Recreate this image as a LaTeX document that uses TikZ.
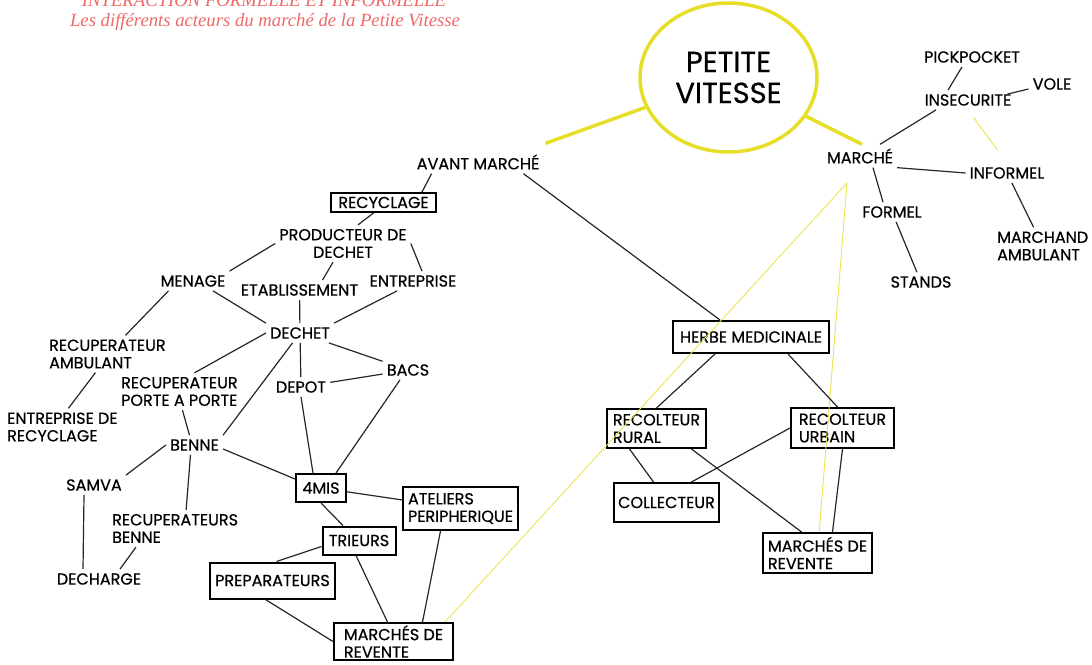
\documentclass[tikz,border=0pt]{standalone}
\usepackage{fontspec}
\setmainfont{Poppins}[FakeBold=0.6]
\newfontfamily\titlefont{Liberation Serif}
\usepackage{tikz}
\usetikzlibrary{shapes.geometric}
\definecolor{vitesse}{RGB}{230,222,40}
\definecolor{titlered}{RGB}{238,104,104}

\begin{document}
\begin{tikzpicture}[x=1pt, y=-1pt,
    lbl/.style={font=\fontsize{16}{17.5}\selectfont, inner sep=4pt, align=center},
    lleft/.style={lbl, align=left, anchor=west},
    boxed/.style={lbl, draw, line width=2pt, inner xsep=4pt, inner ysep=2pt, align=left},
    link/.style={line width=1.2pt, black!85},
    hilite/.style={line width=3.5pt, vitesse},
    faint/.style={line width=0.9pt, vitesse!80},
    headline/.style={font=\titlefont\fontsize{18.7}{20}\selectfont\itshape, text=titlered}]
    \useasboundingbox (0,0) rectangle (1092,664);
    \clip (0,0) rectangle (1092,664);

    % title
    \node[headline] (titleA) at (264,0.5) {INTERACTION FORMELLE ET INFORMELLE};
    \node[headline] (titleB) at (265,22) {Les différents acteurs du marché de la Petite Vitesse};

    % centre
    \node[ellipse, draw=vitesse, line width=3.5pt, minimum width=177pt, minimum height=149pt,
          font=\fontsize{29}{31}\selectfont, align=center] (pv) at (728.5,77.5) {PETITE\\VITESSE};

    % marche side
    \node[lbl] (marche) at (860,156) {MARCHÉ};
    \node[lbl] (insec) at (968,100) {INSECURITE};
    \node[lbl] (pick) at (972,57) {PICKPOCKET};
    \node[lbl] (vole) at (1052,84) {VOLE};
    \node[lbl] (informel) at (1007,173) {INFORMEL};
    \node[lbl] (formel) at (892,212) {FORMEL};
    \node[lbl] (stands) at (921,282) {STANDS};
    \node[lleft] (marchand) at (993,246) {MARCHAND\\AMBULANT};
    \coordinate (fork) at (847,183);

    % avant marche side
    \node[lbl] (avant) at (478,162) {AVANT MARCHÉ};
    \node[boxed, minimum width=105pt, minimum height=19pt] (recyc) at (383.5,202.5) {RECYCLAGE};
    \node[lbl] (prod) at (343,243.5) {PRODUCTEUR DE\\DECHET};
    \node[lbl] (menage) at (193,281) {MENAGE};
    \node[lbl] (etab) at (299.5,290) {ETABLISSEMENT};
    \node[lbl] (entr) at (413,281) {ENTREPRISE};
    \node[lbl] (dechet) at (300,333) {DECHET};
    \node[lleft] (recamb) at (45,354) {RECUPERATEUR\\AMBULANT};
    \node[lleft] (entrec) at (3,427) {ENTREPRISE DE\\RECYCLAGE};
    \node[lleft] (recpap) at (117,391.5) {RECUPERATEUR\\PORTE A PORTE};
    \node[lbl] (depot) at (301,387) {DEPOT};
    \node[lbl] (bacs) at (408,370) {BACS};
    \node[lbl] (benne) at (194.5,445) {BENNE};
    \node[lbl] (samva) at (94,485) {SAMVA};
    \node[lleft] (recben) at (108,528.5) {RECUPERATEURS\\BENNE};
    \node[lbl] (decharge) at (99,579) {DECHARGE};
    \node[boxed, minimum width=50pt, minimum height=28pt] (mis) at (321,488) {4MIS};
    \node[boxed, minimum width=115pt, minimum height=43pt] (atel) at (460.5,508.5) {ATELIERS\\PERIPHERIQUE};
    \node[boxed, minimum width=73pt, minimum height=28pt] (trieurs) at (359,540.5) {TRIEURS};
    \node[boxed, minimum width=125pt, minimum height=36pt] (prep) at (272.5,580.5) {PREPARATEURS};
    \node[boxed, minimum width=119pt, minimum height=37pt] (revL) at (393.5,641.5) {MARCHÉS DE\\REVENTE};

    % herbe medicinale
    \node[boxed, minimum width=156pt, minimum height=32pt] (herbe) at (751,337) {HERBE MEDICINALE};
    \node[boxed, minimum width=99pt, minimum height=39pt] (rural) at (656.5,428.5) {RECOLTEUR\\RURAL};
    \node[boxed, minimum width=103pt, minimum height=40pt] (urbain) at (842.5,428) {RECOLTEUR\\URBAIN};
    \node[boxed, minimum width=103pt, minimum height=39pt] (collect) at (666.5,502.5) {COLLECTEUR};
    \node[boxed, minimum width=109pt, minimum height=40pt] (revR) at (817.5,553) {MARCHÉS DE\\REVENTE};

    % yellow links
    \draw[hilite] (pv) -- ([xshift=2pt, yshift=7pt]avant.north east);
    \draw[hilite] (pv) -- ([xshift=2pt]marche.north);
    \draw[faint] (fork) -- ([xshift=-9pt]revL.north east);
    \draw[faint] (fork) -- (revR);
    \draw[faint, shorten <=9pt, shorten >=16pt] (insec.south) -- (informel.north);

    % links, marche
    \draw[link] ([xshift=-10pt]pick.south) -- ([xshift=-20pt]insec.north);
    \draw[link] ([xshift=-8pt, yshift=-4pt]insec.north east) -- ([yshift=-5pt]vole.west);
    \draw[link] ([xshift=-32pt]insec.south) -- ([xshift=20pt]marche.north);
    \draw[link] (marche.south east) -- (informel.west);
    \draw[link] ([xshift=13pt]marche.south) -- ([xshift=-9pt]formel.north);
    \draw[link] (formel) -- (stands);
    \draw[link] (informel) -- (marchand);

    % links, avant marche
    \draw[link] ([xshift=19pt]avant.south west) -- ([xshift=-15pt]recyc.north east);
    \draw[link] ([xshift=-20pt]avant.south east) -- ([xshift=-31pt]herbe.north);
    \draw[link] ([xshift=-10pt]recyc.south) -- ([xshift=15pt]prod.north);
    \draw[link] (prod.west) -- (menage.north east);
    \draw[link] ([xshift=-10pt]prod.south) -- ([xshift=23pt]etab.north);
    \draw[link] (prod.east) -- ([xshift=9pt]entr.north);
    \draw[link] ([xshift=20pt]menage.south) -- (dechet.north west);
    \draw[link] (etab) -- (dechet);
    \draw[link] ([xshift=-16pt]entr.south) -- (dechet.north east);
    \draw[link] ([xshift=12pt]menage.south west) -- ([xshift=18pt]recamb.north);
    \draw[link] ([xshift=-12pt]recamb.south) -- ([xshift=6pt]entrec.north);
    \draw[link] (dechet.west) -- ([xshift=15pt]recpap.north);
    \draw[link] (dechet) -- (benne.north east);
    \draw[link] (dechet) -- (depot);
    \draw[link] (dechet) -- (bacs);
    \draw[link] (depot) -- (bacs);
    \draw[link] (depot.south) -- ([xshift=-8pt]mis.north);
    \draw[link] ([xshift=-8pt]bacs.south) -- ([xshift=15pt]mis.north);
    \draw[link] ([xshift=3pt]recpap.south) -- ([xshift=-5pt]benne.north);
    \draw[link] (benne.west) -- (samva.north east);
    \draw[link] ([xshift=-4pt]benne.south) -- ([xshift=11pt]recben.north);
    \draw[link] ([yshift=-4pt]benne.east) -- ([yshift=9pt]mis.west);
    \draw[link] ([xshift=-10pt]samva.south) -- ([xshift=-16pt]decharge.north);
    \draw[link] ([xshift=28pt]recben.south west) -- ([xshift=21pt]decharge.north);
    \draw[link] (mis) -- (atel);
    \draw[link] (mis.south) -- ([xshift=-16pt]trieurs.north);
    \draw[link] ([yshift=-6pt]trieurs.west) -- ([xshift=4pt]prep.north);
    \draw[link] ([xshift=-3pt]trieurs.south) -- ([xshift=-6pt]revL.north);
    \draw[link] ([xshift=-7pt]prep.south) -- (revL.west);
    \draw[link] ([xshift=-20pt]atel.south) -- ([xshift=29pt]revL.north);

    % links, herbe medicinale
    \draw[link] ([xshift=-36pt]herbe.south) -- (rural.north);
    \draw[link] ([xshift=37pt]herbe.south) -- ([xshift=-5pt]urbain.north);
    \draw[link] ([xshift=-27pt]rural.south) -- ([xshift=-13pt]collect.north);
    \draw[link] ([xshift=35pt]rural.south) -- ([xshift=-16pt]revR.north);
    \draw[link] (urbain.west) -- ([xshift=25pt]collect.north);
    \draw[link] (urbain.south) -- ([xshift=15pt]revR.north);
\end{tikzpicture}
\end{document}
